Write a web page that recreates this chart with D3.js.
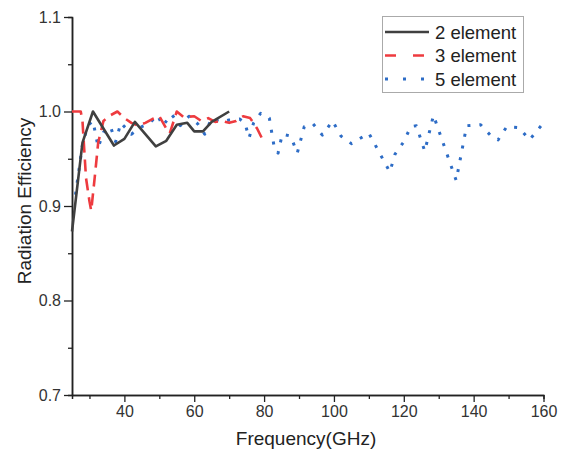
<html>
<script src='https://d3js.org/d3.v7.min.js'></script>
<body style="margin:0">
<svg width=565 height=456></svg>

<script>
// frequency (GHz) / radiation efficiency
const freq2 = [25, 28, 31, 37, 40, 43, 49, 52, 55, 58, 60, 62.5, 65, 70];
const eff2  = [0.873, 0.967, 1.0, 0.964, 0.971, 0.989, 0.963, 0.969, 0.986, 0.988, 0.979, 0.979, 0.989, 1.0];

const freq3 = [25, 27.5, 28, 29, 30, 30.5, 31.5, 32.5, 34, 36, 38, 40, 42, 44, 46, 48, 50, 52, 53, 55, 57, 60, 62, 64, 66, 68, 70, 72, 74, 76, 78, 80];
const eff3  = [1.0, 1.0, 0.99, 0.93, 0.905, 0.895, 0.93, 0.967, 0.99, 0.996, 1.0, 0.993, 0.988, 0.985, 0.988, 0.992, 0.995, 0.982, 0.977, 1.0, 0.994, 0.995, 0.99, 0.993, 0.989, 0.99, 0.988, 0.99, 0.995, 0.993, 0.982, 0.967];

const freq5 = [26, 28, 29.5, 31, 32.5, 34, 36, 37.5, 39, 42, 45, 47, 49.5, 51, 53.5, 56, 58.5, 61, 63, 65, 67.5, 70, 73, 74.5, 75.7, 77, 79, 81.5, 83, 84, 85.2, 87.6, 89.5, 91.5, 94, 96.7, 99.6, 102, 105, 110, 116, 117.5, 120, 122, 123.6, 126, 128.5, 135, 138, 142, 145.5, 147, 149.5, 153, 156, 160];
const eff5  = [0.912, 0.965, 0.985, 0.99, 0.962, 0.978, 0.984, 0.968, 0.988, 0.976, 0.984, 0.987, 0.996, 0.985, 0.997, 0.985, 0.995, 0.987, 0.976, 0.993, 0.989, 0.991, 0.992, 0.988, 0.972, 0.988, 0.998, 0.993, 0.96, 0.956, 0.976, 0.974, 0.956, 0.984, 0.987, 0.975, 0.99, 0.974, 0.966, 0.977, 0.936, 0.955, 0.968, 0.984, 0.985, 0.958, 0.996, 0.927, 0.985, 0.986, 0.972, 0.97, 0.984, 0.983, 0.97, 0.988];

const xTicks = [40, 60, 80, 100, 120, 140, 160];
const yTicks = [0.7, 0.8, 0.9, 1.0, 1.1];
const seriesNames = ["2 element", "3 element", "5 element"];

const svg = d3.select("svg");
const font = "'Liberation Sans', Arial, sans-serif";

var xScale = d3.scaleLinear().domain([25, 160]).range([72, 543.5]);
var yScale = d3.scaleLinear().domain([0.7, 1.1]).range([395, 17]);

// minor ticks first, majors on top
var xMinor = d3.axisBottom(xScale).tickValues(d3.range(30, 160, 20)).tickSize(4).tickFormat("");
var yMinor = d3.axisLeft(yScale).tickValues([0.75, 0.85, 0.95, 1.05]).tickSize(4).tickFormat("");
var xAx = d3.axisBottom(xScale).tickValues(xTicks).tickSize(7).tickSizeOuter(0).tickPadding(4).tickFormat(d3.format("d"));
var yAx = d3.axisLeft(yScale).tickValues(yTicks).tickSize(8).tickSizeOuter(0).tickPadding(3).tickFormat(d3.format(".1f"));

svg.append("g").attr("transform", "translate(0,395)").call(xMinor);
svg.append("g").attr("transform", "translate(72,0)").call(yMinor);
var gx = svg.append("g").attr("transform", "translate(0,395)").call(xAx);
var gy = svg.append("g").attr("transform", "translate(72,0)").call(yAx);

svg.selectAll(".domain").attr("stroke", "#222").attr("stroke-width", 1.5);
svg.selectAll(".tick line").attr("stroke", "#222").attr("stroke-width", 1.3);
svg.selectAll(".tick text").style("font-family", font).style("font-size", "16px").attr("fill", "#333");

svg.append("text")
  .attr("x", 306).attr("y", 445)
  .attr("text-anchor", "middle")
  .style("font-family", font).style("font-size", "19px").attr("fill", "#222")
  .text("Frequency(GHz)");

svg.append("text")
  .attr("transform", "translate(31,201) rotate(-90)")
  .attr("text-anchor", "middle")
  .style("font-family", font).style("font-size", "19px").attr("fill", "#222")
  .text("Radiation Efficiency");

var line = d3.line().x(d => xScale(d[0])).y(d => yScale(d[1]));

var series = [
  {pts: d3.zip(freq5, eff5), color: "#2d6cc6", width: 3, dash: "3,9", legDash: "3,15"},
  {pts: d3.zip(freq3, eff3), color: "#ee3b3f", width: 2.6, dash: "12,7", legDash: "11,17"},
  {pts: d3.zip(freq2, eff2), color: "#404040", width: 2.6, dash: null, legDash: null}
];

series.forEach(function(s) {
  svg.append("path")
    .attr("d", line(s.pts))
    .attr("fill", "none")
    .attr("stroke", s.color)
    .attr("stroke-width", s.width)
    .attr("stroke-dasharray", s.dash)
    .attr("stroke-linejoin", "round");
});

// legend
var leg = svg.append("g");
leg.append("rect")
  .attr("x", 382.5).attr("y", 16.5).attr("width", 141).attr("height", 76)
  .attr("fill", "white").attr("stroke", "#aaa").attr("stroke-width", 1);

var legRows = [series[2], series[1], series[0]];
legRows.forEach(function(s, i) {
  var y = 32 + i * 23.5;
  leg.append("line")
    .attr("x1", 385).attr("x2", 429).attr("y1", y).attr("y2", y)
    .attr("stroke", s.color).attr("stroke-width", s.width)
    .attr("stroke-dasharray", s.legDash);
  leg.append("text")
    .attr("x", 435).attr("y", y)
    .attr("dominant-baseline", "central")
    .style("font-family", font).style("font-size", "18.5px").attr("fill", "#222")
    .text(seriesNames[i]);
});
</script>
</body>
</html>
